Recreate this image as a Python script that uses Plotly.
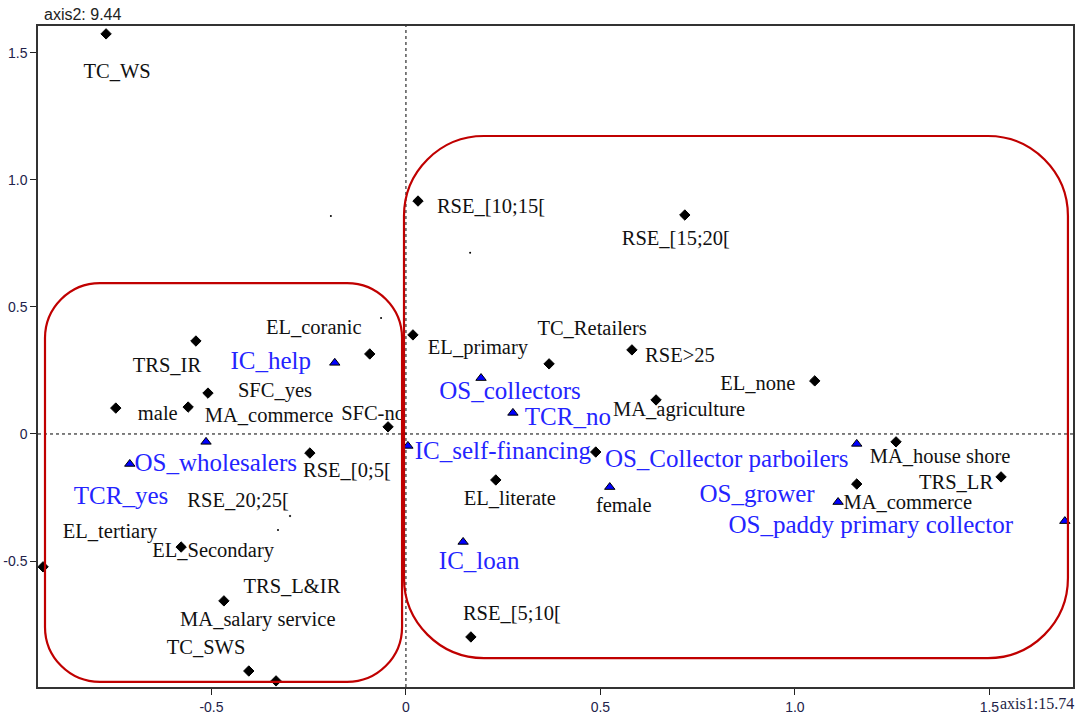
import plotly.graph_objects as go

# ---------------- data ----------------
# active categories (black diamonds)
cat_labels = ["TC_WS", "RSE_[10;15[", "RSE_[15;20[", "EL_coranic", "TRS_IR", "SFC_yes",
              "male", "MA_commerce", "SFC-no", "RSE_[0;5[", "RSE_20;25[", "EL_tertiary",
              "EL_Secondary", "TRS_L&IR", "MA_salary service", "TC_SWS", "EL_primary",
              "TC_Retailers", "RSE>25", "EL_none", "MA_agriculture", "MA_house shore",
              "TRS_LR", "MA_commerce", "", "EL_literate", "RSE_[5;10["]
cat_x = [-0.771, 0.031, 0.717, -0.093, -0.540, -0.509,
         -0.746, -0.560, -0.046, -0.247, -0.298, -0.933,
         -0.578, -0.468, -0.404, -0.334, 0.018,
         0.368, 0.581, 1.051, 0.643, 1.260,
         1.530, 1.159, 0.488, 0.231, 0.167]
cat_y = [1.575, 0.917, 0.862, 0.315, 0.366, 0.161,
         0.102, 0.106, 0.028, -0.075, -0.323, -0.523,
         -0.445, -0.657, -0.933, -0.972, 0.390,
         0.276, 0.331, 0.209, 0.134, -0.031,
         -0.169, -0.197, -0.071, -0.181, -0.799]

# supplementary categories (blue triangles)
sup_labels = ["IC_help", "OS_wholesalers", "TCR_yes", "OS_collectors", "TCR_no",
              "IC_self-financing", "IC_loan", "female", "OS_Collector parboilers",
              "OS_grower", "OS_paddy primary collector"]
sup_x = [-0.183, -0.710, -0.514, 0.193, 0.275, 0.005, 0.147, 0.524, 1.159, 1.111, 1.694]
sup_y = [0.280, -0.118, -0.031, 0.220, 0.083, -0.047, -0.425, -0.209, -0.039, -0.268, -0.343]

# tiny unlabeled points
minor_x = [-0.193, 0.165, -0.064, -0.329]
minor_y = [0.858, 0.713, 0.457, -0.378]

axis1_inertia = "15.74"
axis2_inertia = "9.44"
tick_vals = [-0.5, 0, 0.5, 1.0, 1.5]
tick_text = ["-0.5", "0", "0.5", "1.0", "1.5"]

# ---------------- styling ----------------
W, H = 1078, 715
ML, MR, MT, MB = 38, 5, 26, 28
XR = [-0.946, 1.715]
YR = [-0.996, 1.606]
pxx = (W - ML - MR) / (XR[1] - XR[0])
pxy = (H - MT - MB) / (YR[1] - YR[0])
SERIF = "Liberation Serif, Times New Roman, Tinos, DejaVu Serif, serif"
SANS = "Liberation Sans, Arial, Arimo, DejaVu Sans, sans-serif"

# label offsets (pixels, right / down) from each point
cat_off = [(11, 39), (73, 7), (-9, 25), (-56, -25), (-29, 26), (67, -1),
           (42, 7), (81, 10), (-15, -12), (37, 19), (-52, -14), (67, -34),
           (32, 5), (68, -13), (9, -50), (-70, -32), (65, 14),
           (43, -34), (48, 7), (-57, 4), (23, 11), (44, 16),
           (-45, 7), (51, 20), (0, 0), (14, 20), (41, -22)]
sup_off = [(-64, 0), (86, 1), (-85, 56), (29, 15), (55, 6), (95, 7), (16, 21),
           (14, 20), (-130, 17), (-81, -6), (-194, 6)]
sup_label_color = ["#2424ff"] * 7 + ["#111111"] + ["#2424ff"] * 3
sup_label_size = [25] * 7 + [20.5] + [25] * 3
cat_size = [8 if i != 10 else 2 for i in range(len(cat_x))]
cat_line = [1 if i != 10 else 0 for i in range(len(cat_x))]

def lab_pos(xs, ys, offs):
    lx = [x + dx / pxx for x, (dx, dy) in zip(xs, offs)]
    ly = [y - dy / pxy for y, (dx, dy) in zip(ys, offs)]
    return lx, ly

fig = go.Figure()

fig.add_trace(go.Scatter(x=minor_x, y=minor_y, mode="markers",
                         marker=dict(size=2, color="#000", opacity=1), hoverinfo="skip"))
fig.add_trace(go.Scatter(x=cat_x, y=cat_y, mode="markers",
                         marker=dict(symbol="diamond", size=cat_size, color="#000000",
                                     opacity=1,
                                     line=dict(color="#000000", width=cat_line)),
                         text=cat_labels))
fig.add_trace(go.Scatter(x=sup_x, y=sup_y, mode="markers",
                         marker=dict(symbol="triangle-up", size=9, color="#0000ff",
                                     opacity=1,
                                     line=dict(color="#000000", width=1)),
                         text=sup_labels))

clx, cly = lab_pos(cat_x, cat_y, cat_off)
fig.add_trace(go.Scatter(x=clx, y=cly, mode="text", text=cat_labels,
                         textposition="middle center",
                         textfont=dict(family=SERIF, size=20.5, color="#111111"),
                         hoverinfo="skip"))
slx, sly = lab_pos(sup_x, sup_y, sup_off)
fig.add_trace(go.Scatter(x=slx, y=sly, mode="text", text=sup_labels,
                         textposition="middle center",
                         textfont=dict(family=SERIF, size=sup_label_size, color=sup_label_color),
                         hoverinfo="skip"))

def rrect(x0, x1, y0, y1, r):
    rx, ry = r / pxx, r / pxy
    k = 0.5523
    p = f"M {x0+rx},{y1} L {x1-rx},{y1} "
    p += f"C {x1-rx+k*rx},{y1} {x1},{y1-ry+k*ry} {x1},{y1-ry} "
    p += f"L {x1},{y0+ry} "
    p += f"C {x1},{y0+ry-k*ry} {x1-rx+k*rx},{y0} {x1-rx},{y0} "
    p += f"L {x0+rx},{y0} "
    p += f"C {x0+rx-k*rx},{y0} {x0},{y0+ry-k*ry} {x0},{y0+ry} "
    p += f"L {x0},{y1-ry} "
    p += f"C {x0},{y1-ry+k*ry} {x0+rx-k*rx},{y1} {x0+rx},{y1} Z"
    return p

shapes = [
    dict(type="line", x0=0, x1=0, y0=YR[0], y1=YR[1], xref="x", yref="y",
         line=dict(color="black", width=1, dash="3px,3px"), layer="below"),
    dict(type="line", x0=XR[0], x1=XR[1], y0=0, y1=0, xref="x", yref="y",
         line=dict(color="black", width=1, dash="3px,3px"), layer="below"),
    dict(type="path", path=rrect(-0.928, -0.010, -0.976, 0.594, 55), xref="x", yref="y",
         line=dict(color="#c00000", width=2.2), layer="above"),
    dict(type="path", path=rrect(-0.005, 1.702, -0.882, 1.173, 80), xref="x", yref="y",
         line=dict(color="#c00000", width=2.2), layer="above"),
]

axis_common = dict(showgrid=False, zeroline=False, showline=True, mirror=True,
                   linecolor="#333333", linewidth=1.5, ticks="outside", ticklen=6,
                   tickcolor="#222222", tickvals=tick_vals, ticktext=tick_text,
                   automargin=False,
                   tickfont=dict(family=SANS, size=14, color="#22224a"))

fig.update_layout(
    width=W, height=H,
    margin=dict(l=ML, r=MR, t=MT, b=MB, autoexpand=False),
    paper_bgcolor="white", plot_bgcolor="white",
    showlegend=False,
    shapes=shapes,
    xaxis=dict(range=XR, **axis_common),
    yaxis=dict(range=YR, **axis_common),
    annotations=[
        dict(text="axis2: " + axis2_inertia, xref="paper", yref="paper", x=0, y=1,
             xshift=4, yshift=1, xanchor="left", yanchor="bottom", showarrow=False,
             font=dict(family=SANS, size=16, color="#222222")),
        dict(text="axis1:" + axis1_inertia, xref="paper", yref="paper", x=1, y=0,
             xshift=3, yshift=-27, xanchor="right", yanchor="bottom", showarrow=False,
             font=dict(family=SERIF, size=16, color="#222244")),
    ],
)

fig.write_html("out.html", config={"displayModeBar": False},
               post_script="document.body.style.margin='0px';document.body.style.overflow='hidden';")
